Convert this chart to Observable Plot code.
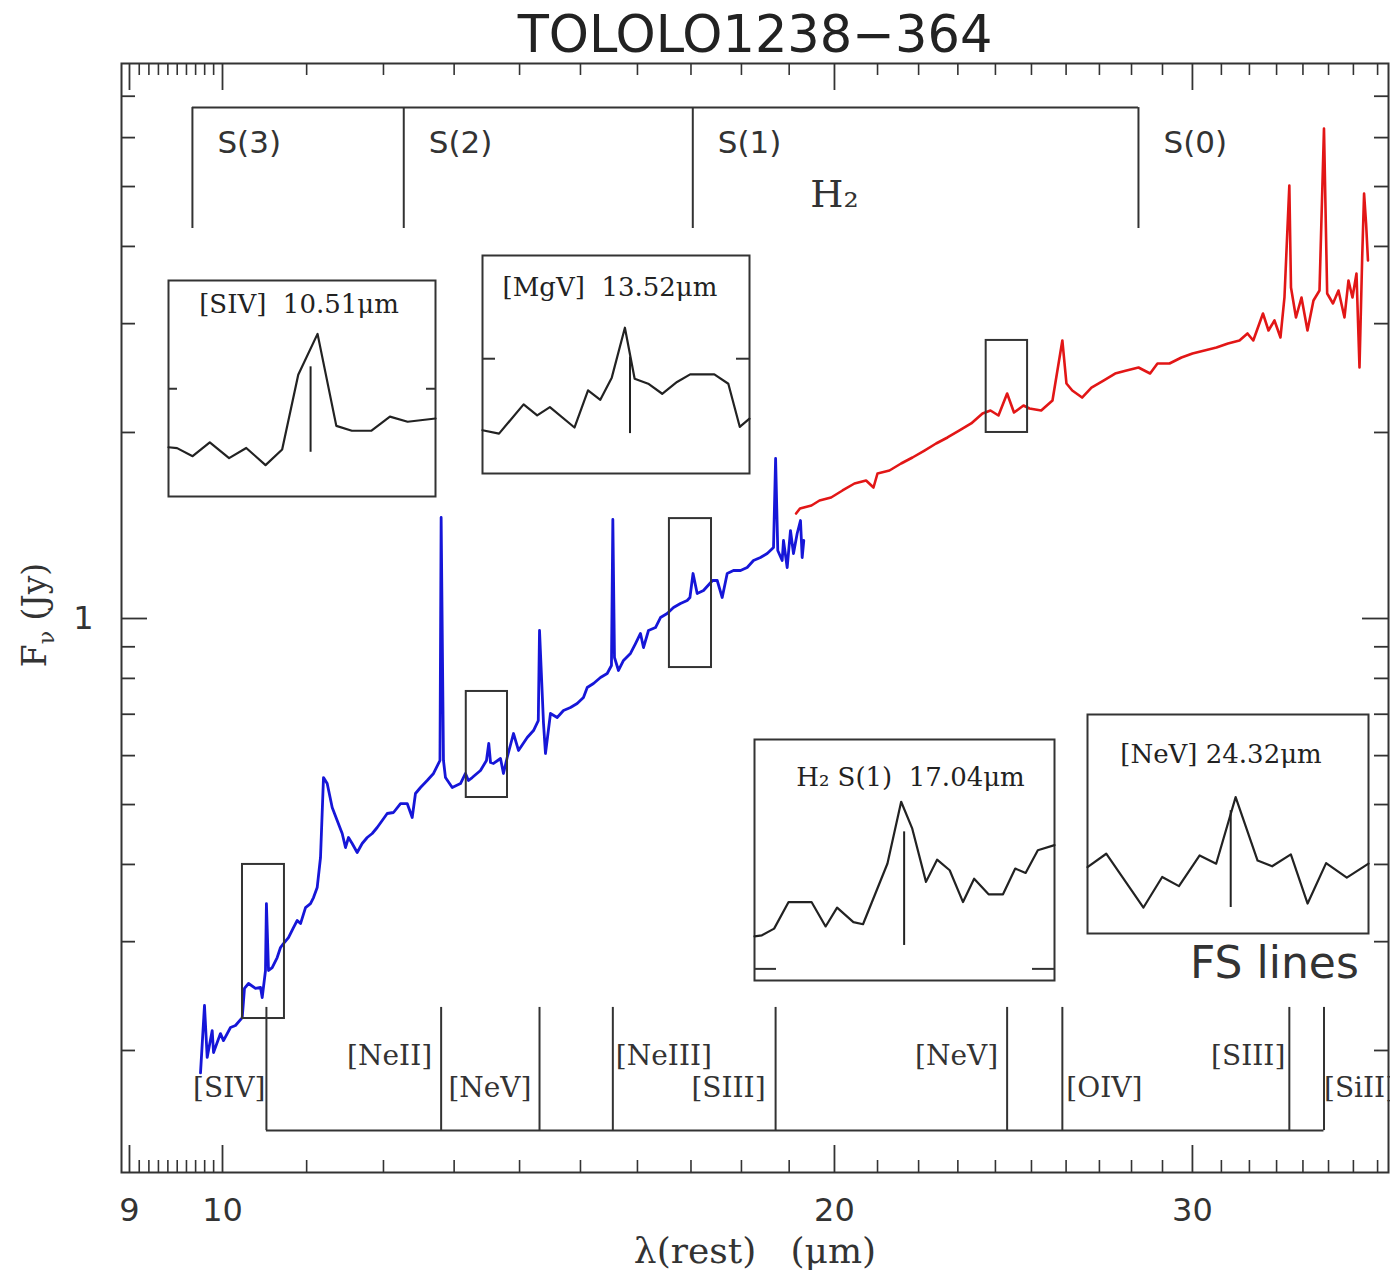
<!DOCTYPE html>
<html>
<head>
<meta charset="utf-8">
<script src="https://cdn.jsdelivr.net/npm/d3@7"></script>
<script src="https://cdn.jsdelivr.net/npm/@observablehq/plot@0.6"></script>
<style>
  body { margin: 0; background: #fff; }
  #wrap { position: relative; width: 1390px; height: 1280px; overflow: hidden; }
  #wrap svg.inset { position: absolute; }
</style>
</head>
<body>
<div id="wrap"></div>
<script>
// ---- IRS low-resolution spectrum of TOLOLO 1238-364 (rest wavelength, µm; flux density, Jy)
// Short-wavelength module (blue)
const shortWave = [
  9.754, 9.798, 9.828, 9.884, 9.899, 9.977, 10.011, 10.091, 10.148, 10.226,
  10.252, 10.299, 10.381, 10.440, 10.460, 10.499, 10.51, 10.535, 10.579, 10.639,
  10.679, 10.715, 10.776, 10.837, 10.883, 10.924, 10.986, 11.048, 11.086, 11.132,
  11.174, 11.212, 11.259, 11.323, 11.387, 11.452, 11.495, 11.534, 11.582, 11.648,
  11.714, 11.781, 11.848, 11.915, 11.983, 12.051, 12.137, 12.234, 12.327, 12.397,
  12.443, 12.514, 12.609, 12.700, 12.772, 12.793, 12.81, 12.844, 12.873, 12.972,
  13.094, 13.168, 13.213, 13.269, 13.394, 13.485, 13.52, 13.547, 13.593, 13.701,
  13.747, 13.805, 13.904, 13.983, 14.122, 14.223, 14.30, 14.32, 14.385, 14.417,
  14.499, 14.609, 14.714, 14.831, 14.944, 15.051, 15.115, 15.223, 15.344, 15.461,
  15.536, 15.56, 15.589, 15.660, 15.749, 15.874, 15.965, 16.055, 16.110, 16.201,
  16.330, 16.423, 16.548, 16.667, 16.799, 16.927, 16.98, 17.04, 17.12, 17.243,
  17.420, 17.513, 17.612, 17.712, 17.838, 17.981, 18.117, 18.247, 18.392, 18.533,
  18.666, 18.71, 18.756, 18.850, 18.878, 18.957, 19.028, 19.093, 19.173, 19.245,
  19.282, 19.317
];
const shortFlux = [
  0.184, 0.2365, 0.1949, 0.2154, 0.1985, 0.2130, 0.2075, 0.2179, 0.2195, 0.2261,
  0.2520, 0.2567, 0.2520, 0.2529, 0.2436, 0.2694, 0.3457, 0.2694, 0.2724, 0.2828,
  0.2935, 0.2979, 0.3046, 0.3162, 0.3246, 0.3209, 0.3406, 0.3457, 0.3536, 0.3670,
  0.4105, 0.5529, 0.5407, 0.4945, 0.4711, 0.4489, 0.4260, 0.4422, 0.4325, 0.4182,
  0.4325, 0.4422, 0.4489, 0.4590, 0.4711, 0.4836, 0.4854, 0.5019, 0.5019, 0.4764,
  0.5210, 0.5328, 0.5469, 0.5614, 0.5827, 0.5892, 1.4569, 0.5892, 0.5529, 0.5328,
  0.5407, 0.5614, 0.5469, 0.5529, 0.5677, 0.5892, 0.6278, 0.5848, 0.5827, 0.5936,
  0.5614, 0.5958, 0.6515, 0.6116, 0.6418, 0.6588, 0.6838, 0.9563, 0.6762, 0.6048,
  0.7019, 0.6915, 0.7098, 0.7178, 0.7286, 0.7451, 0.7733, 0.7849, 0.8027, 0.8147,
  0.8394, 1.4460, 0.8647, 0.8240, 0.8552, 0.8779, 0.9110, 0.9457, 0.8975, 0.9563,
  0.9670, 1.0037, 1.0188, 1.0418, 1.0574, 1.0694, 1.0813, 1.1825, 1.0975, 1.1099,
  1.1521, 1.1521, 1.0813, 1.1825, 1.1958, 1.1958, 1.2093, 1.2413, 1.2552, 1.2741,
  1.3029, 1.8153, 1.2884, 1.2413, 1.3373, 1.2093, 1.3879, 1.2741, 1.3725, 1.4406,
  1.2552, 1.3373
];
// Long-wavelength module (red)
const longWave = [
  19.149, 19.234, 19.486, 19.664, 19.924, 20.183, 20.459, 20.729, 20.904, 20.999,
  21.286, 21.568, 21.848, 22.147, 22.440, 22.732, 23.043, 23.350, 23.651, 23.866,
  24.083, 24.32, 24.510, 24.775, 24.944, 25.277, 25.602, 25.89, 26.011, 26.182,
  26.475, 26.758, 27.125, 27.484, 27.841, 28.222, 28.595, 28.835, 29.230, 29.630,
  30.002, 30.412, 30.828, 31.232, 31.642, 31.930, 32.140, 32.495, 32.699, 32.921,
  33.146, 33.296, 33.48, 33.543, 33.733, 33.944, 34.175, 34.408, 34.644, 34.82,
  34.946, 35.177, 35.397, 35.638, 35.800, 35.962, 36.126, 36.249, 36.360, 36.438,
  36.521, 36.599
];
const longFlux = [
  1.4788, 1.5066, 1.5236, 1.5522, 1.5697, 1.6112, 1.6537, 1.6723, 1.6292, 1.7165,
  1.7358, 1.7816, 1.8219, 1.8700, 1.9195, 1.9629, 2.0148, 2.0681, 2.1466, 2.1707,
  2.1306, 2.3121, 2.1544, 2.2113, 2.1867, 2.1707, 2.2526, 2.8176, 2.4000, 2.3381,
  2.2780, 2.3645, 2.4270, 2.4912, 2.5192, 2.5475, 2.4912, 2.5857, 2.5857, 2.6441,
  2.6838, 2.7140, 2.7445, 2.7863, 2.8176, 2.8921, 2.8176, 3.1153, 2.9246, 3.0355,
  2.8496, 3.3071, 5.0192, 3.4325, 3.0697, 3.3071, 2.9246, 3.2703, 3.3944, 6.2082,
  3.3567, 3.2339, 3.3944, 3.0697, 3.5234, 3.3071, 3.6165, 2.5475, 3.8384, 4.8717,
  4.3570, 3.7958
];

// ---- H2 pure-rotational lines (µm)
const h2Names = ["S(3)", "S(2)", "S(1)", "S(0)"];
const h2Wave = [9.665, 12.279, 17.035, 28.221];

// ---- Fine-structure lines (µm)
const fsNames = ["[SIV]", "[NeII]", "[NeV]", "[NeIII]", "[SIII]", "[NeV]", "[OIV]", "[SIII]", "[SiII]"];
const fsWave = [10.51, 12.81, 14.32, 15.56, 18.71, 24.32, 25.89, 33.48, 34.82];

// ---- Zoom windows drawn on the spectrum (µm, Jy)
const boxWaveLo = [10.229, 13.18, 16.59, 23.75];
const boxWaveHi = [10.727, 13.81, 17.40, 24.89];
const boxFluxLo = [0.2253, 0.5133, 0.833, 2.0];
const boxFluxHi = [0.400, 0.762, 1.451, 2.818];

// ---- Zoomed line profiles
const sivWave = [10.245, 10.261, 10.290, 10.322, 10.358, 10.390, 10.426, 10.457, 10.487, 10.523, 10.558, 10.587, 10.623, 10.658, 10.691, 10.743];
const sivFlux = [0.2568, 0.2562, 0.2508, 0.2602, 0.2495, 0.2563, 0.2449, 0.2553, 0.3113, 0.3471, 0.2718, 0.2683, 0.2683, 0.2786, 0.2748, 0.2772];
const mgvWave = [13.172, 13.211, 13.269, 13.301, 13.331, 13.389, 13.421, 13.450, 13.477, 13.508, 13.531, 13.563, 13.596, 13.631, 13.662, 13.719, 13.752, 13.779, 13.802];
const mgvFlux = [0.5552, 0.5518, 0.5818, 0.5703, 0.5789, 0.5579, 0.5968, 0.5867, 0.6107, 0.6685, 0.6095, 0.6040, 0.5931, 0.6059, 0.6143, 0.6143, 0.6040, 0.5586, 0.5670];
const h2s1Wave = [16.636, 16.656, 16.689, 16.728, 16.790, 16.828, 16.859, 16.903, 16.929, 16.995, 17.032, 17.062, 17.099, 17.129, 17.163, 17.199, 17.229, 17.268, 17.307, 17.340, 17.368, 17.401, 17.446];
const h2s1Flux = [0.9222, 0.9243, 0.9387, 0.9979, 0.9979, 0.9434, 0.9851, 0.9528, 0.9482, 1.0905, 1.2572, 1.1817, 1.0454, 1.1003, 1.0737, 0.9979, 1.0529, 1.0158, 1.0158, 1.0779, 1.0671, 1.1244, 1.1376];
const nevWave = [23.739, 23.815, 23.966, 24.042, 24.110, 24.194, 24.261, 24.340, 24.429, 24.488, 24.564, 24.632, 24.707, 24.791, 24.879];
const nevFlux = [2.219, 2.266, 2.083, 2.185, 2.154, 2.260, 2.231, 2.476, 2.242, 2.222, 2.264, 2.096, 2.233, 2.183, 2.231];

// ---- Axis ticks
const xLabelTicks = [9, 10, 20, 30];
const xMajorTicks = [9, 10, 20, 30];
const xMinorTicks = [9.1, 9.2, 9.3, 9.4, 9.5, 9.6, 9.7, 9.8, 9.9,
  11, 12, 13, 14, 15, 16, 17, 18, 19, 21, 22, 23, 24, 25, 26, 27, 28, 29,
  31, 32, 33, 34, 35, 36, 37];
const yLabelTicks = [1];
const yMajorTicks = [1];
const yMinorTicks = [0.2, 0.3, 0.4, 0.5, 0.6, 0.7, 0.8, 0.9, 2, 3, 4, 5, 6, 7];

// ---------------------------------------------------------------------------
const ink = "#333";
const W = 1390, H = 1280;
const M = {top: 63, right: 2, bottom: 108, left: 121};
const frameW = W - M.left - M.right;
const frameH = H - M.top - M.bottom;
const waveDomain = [8.919, 37.46];
const fluxDomain = [0.12694, 7.9077];

const spectrumShort = shortWave.map((w, i) => ({wave: w, flux: shortFlux[i]}));
const spectrumLong = longWave.map((w, i) => ({wave: w, flux: longFlux[i]}));
const boxes = boxWaveLo.map((w, i) => ({x1: w, x2: boxWaveHi[i], y1: boxFluxLo[i], y2: boxFluxHi[i]}));

// bracket geometry (Jy) for the annotation combs
const h2Bar = 6.71, h2Leg = 4.276, h2LabelY = 5.87;
const fsBar = 0.1484, fsLeg = 0.2348, fsUpperY = 0.1956, fsLowerY = 0.1742;
// label placement beside each comb tooth: side of the tooth, row, pixel nudge
const fsSide = ["end", "end", "end", "start", "end", "end", "start", "end", "start"];
const fsRow = [1, 0, 1, 0, 1, 0, 1, 0, 1];
const fsNudge = [-1, -9, -8, 3, -10, -9, 4, -4, 0];
const fsLabels = fsNames.map((name, i) => ({name, wave: fsWave[i], side: fsSide[i], dx: fsNudge[i], y: fsRow[i] ? fsLowerY : fsUpperY}));

const serif = "DejaVu Serif";

const main = Plot.plot({
  width: W, height: H,
  marginTop: M.top, marginRight: M.right, marginBottom: M.bottom, marginLeft: M.left,
  style: {fontFamily: "DejaVu Sans", fontSize: "32px", color: ink, background: "white", overflow: "visible"},
  x: {type: "log", domain: waveDomain},
  y: {type: "log", domain: fluxDomain},
  marks: [
    // tick marks on all four sides, pointing inward
    Plot.ruleX(xMinorTicks, {insetTop: frameH - 12, stroke: ink, strokeWidth: 1.6}),
    Plot.ruleX(xMinorTicks, {insetBottom: frameH - 12, stroke: ink, strokeWidth: 1.6}),
    Plot.ruleX(xMajorTicks, {insetTop: frameH - 27, stroke: ink, strokeWidth: 1.8}),
    Plot.ruleX(xMajorTicks, {insetBottom: frameH - 27, stroke: ink, strokeWidth: 1.8}),
    Plot.ruleY(yMinorTicks, {insetRight: frameW - 14, stroke: ink, strokeWidth: 1.8}),
    Plot.ruleY(yMinorTicks, {insetLeft: frameW - 14, stroke: ink, strokeWidth: 1.8}),
    Plot.ruleY(yMajorTicks, {insetRight: frameW - 26, stroke: ink, strokeWidth: 1.8}),
    Plot.ruleY(yMajorTicks, {insetLeft: frameW - 26, stroke: ink, strokeWidth: 1.8}),
    Plot.frame({stroke: ink, strokeWidth: 2}),
    Plot.axisX(xLabelTicks, {anchor: "bottom", tickSize: 0, tickPadding: 26, tickFormat: d => String(d), label: null, fontSize: 32}),
    Plot.axisY(yLabelTicks, {anchor: "left", tickSize: 0, tickPadding: 28, tickFormat: d => String(d), label: null, fontSize: 32}),

    // H2 comb
    Plot.ruleY([h2Bar], {x1: h2Wave[0], x2: h2Wave[h2Wave.length - 1], stroke: ink, strokeWidth: 2}),
    Plot.ruleX(h2Wave, {y1: h2Leg, y2: h2Bar, stroke: ink, strokeWidth: 2}),
    Plot.text(h2Names, {x: (d, i) => h2Wave[i], y: h2LabelY, text: d => d, textAnchor: "start", dx: 25, fontSize: 31, fill: ink}),
    Plot.text([{label: "H₂", wave: 20.0, flux: 4.84}], {x: "wave", y: "flux", text: "label", fontSize: 38, fontFamily: serif, fill: ink}),

    // fine-structure comb
    Plot.ruleY([fsBar], {x1: fsWave[0], x2: fsWave[fsWave.length - 1], stroke: ink, strokeWidth: 2}),
    Plot.ruleX(fsWave, {y1: fsBar, y2: fsLeg, stroke: ink, strokeWidth: 2}),
    ...fsLabels.map(d => Plot.text([d], {x: "wave", y: "y", text: "name", textAnchor: d.side, dx: d.dx, fontSize: 28, fontFamily: serif, fill: ink})),
    Plot.text([{label: "FS lines", wave: 32.92, flux: 0.2765}], {x: "wave", y: "flux", text: "label", fontSize: 44, fill: ink}),

    // spectrum
    Plot.line(spectrumShort, {x: "wave", y: "flux", stroke: "#1616d8", strokeWidth: 2.8, strokeLinejoin: "round"}),
    Plot.line(spectrumLong, {x: "wave", y: "flux", stroke: "#e21616", strokeWidth: 2.6, strokeLinejoin: "round"}),

    // zoom windows
    Plot.rect(boxes, {x1: "x1", x2: "x2", y1: "y1", y2: "y2", fill: "none", stroke: ink, strokeWidth: 2}),

    // title and x label
    Plot.text(["TOLOLO1238\u2212364"], {frameAnchor: "top", lineAnchor: "middle", dy: -28, text: d => d, fontSize: 51, fill: "#222"}),
    Plot.text(["λ(rest)\u00a0\u00a0\u00a0(μm)"], {frameAnchor: "bottom", lineAnchor: "middle", dy: 79, text: d => d, fontSize: 36, fontFamily: serif, fill: ink})
  ]
});

// y label with a subscript nu
const yl = d3.select(main).append("text")
  .attr("transform", "translate(46,615) rotate(-90)")
  .attr("text-anchor", "middle")
  .attr("font-family", serif)
  .attr("font-size", 33)
  .attr("fill", ink);
yl.append("tspan").text("F");
yl.append("tspan").attr("font-size", 22).attr("dy", 8).text("ν");
yl.append("tspan").attr("dy", -8).text("\u00a0(Jy)");

const wrap = document.getElementById("wrap");
wrap.append(main);

// ---- inset line-profile panels
const insets = [
  {title: "[SIV]\u00a0\u00a010.51μm", wave: sivWave, flux: sivFlux, line: 10.51, marker: [0.2534, 0.318],
   xDomain: [10.245, 10.743], yDomain: [0.2253, 0.400], tick: 0.3, tickLen: 9,
   left: 168, top: 280, width: 267, height: 216, titleDy: 24, titleDx: -3},
  {title: "[MgV]\u00a0\u00a013.52μm", wave: mgvWave, flux: mgvFlux, line: 13.52, marker: [0.5518, 0.6339],
   xDomain: [13.172, 13.802], yDomain: [0.5133, 0.762], tick: 0.632, tickLen: 13,
   left: 482, top: 255, width: 267, height: 218, titleDy: 32, titleDx: -6},
  {title: "H₂\u00a0S(1)\u00a0\u00a017.04μm", wave: h2s1Wave, flux: h2s1Flux, line: 17.04, marker: [0.903, 1.173],
   xDomain: [16.636, 17.446], yDomain: [0.833, 1.451], tick: 0.8556, tickLen: 22,
   left: 754, top: 739, width: 300, height: 241, titleDy: 38, titleDx: 6},
  {title: "[NeV]\u00a024.32μm", wave: nevWave, flux: nevFlux, line: 24.32, marker: [2.083, 2.424],
   xDomain: [23.739, 24.879], yDomain: [2.0, 2.818], tick: null, tickLen: 0,
   left: 1087, top: 714, width: 281, height: 219, titleDy: 40, titleDx: -7}
];

for (const p of insets) {
  const pts = p.wave.map((w, i) => ({wave: w, flux: p.flux[i]}));
  const iw = p.width + 2, ih = p.height + 2;
  const marks = [
    Plot.frame({stroke: ink, strokeWidth: 2}),
    Plot.line(pts, {x: "wave", y: "flux", stroke: "#222", strokeWidth: 2.2}),
    Plot.ruleX([p.line], {y1: p.marker[0], y2: p.marker[1], stroke: "#222", strokeWidth: 2}),
    Plot.text([p.title], {frameAnchor: "top", lineAnchor: "middle", dy: p.titleDy, dx: p.titleDx, text: d => d, fontSize: 26, fontFamily: serif, fill: "#222"})
  ];
  if (p.tick != null) {
    marks.push(Plot.ruleY([p.tick], {insetRight: p.width - p.tickLen, stroke: ink, strokeWidth: 2}));
    marks.push(Plot.ruleY([p.tick], {insetLeft: p.width - p.tickLen, stroke: ink, strokeWidth: 2}));
  }
  const svg = Plot.plot({
    width: iw, height: ih, margin: 1,
    style: {background: "white", overflow: "visible"},
    x: {type: "linear", domain: p.xDomain, axis: null},
    y: {type: "log", domain: p.yDomain, axis: null},
    marks
  });
  svg.classList.add("inset");
  svg.style.left = (p.left - 1) + "px";
  svg.style.top = (p.top - 1) + "px";
  wrap.append(svg);
}
</script>
</body>
</html>
